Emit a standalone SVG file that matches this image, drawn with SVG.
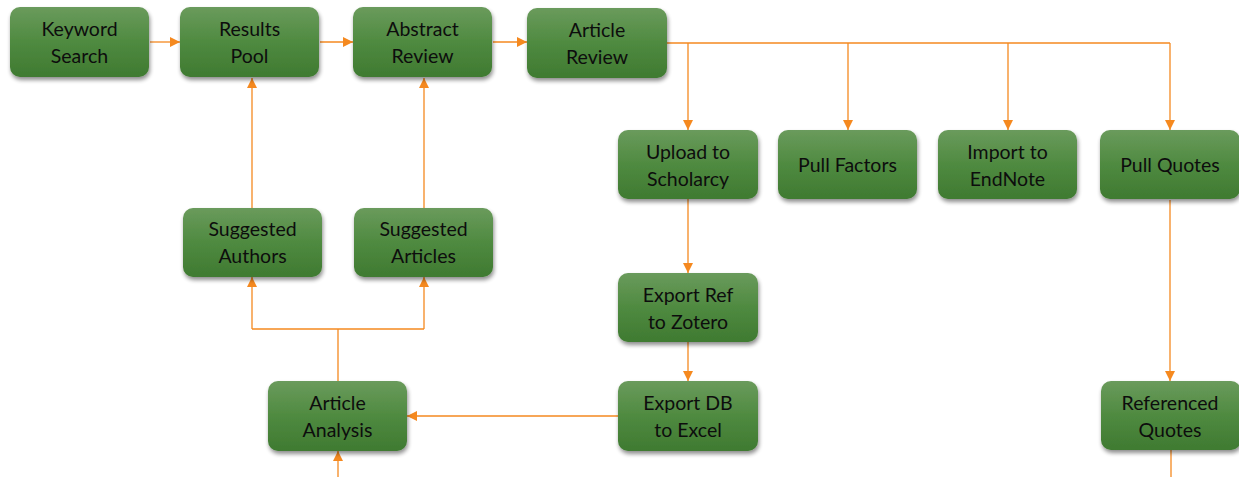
<svg xmlns="http://www.w3.org/2000/svg" width="1239" height="477" viewBox="0 0 1239 477">
  <defs>
    <linearGradient id="nodeFill" x1="0" y1="0" x2="0" y2="1">
      <stop offset="0" stop-color="#6a9b5c"/>
      <stop offset="0.5" stop-color="#4f8a40"/>
      <stop offset="1" stop-color="#3f7a31"/>
    </linearGradient>
    <filter id="shadow" x="-10%" y="-10%" width="125%" height="135%">
      <feGaussianBlur in="SourceAlpha" stdDeviation="2"/>
      <feOffset dx="1" dy="3" result="b"/>
      <feComponentTransfer><feFuncA type="linear" slope="0.45"/></feComponentTransfer>
      <feMerge><feMergeNode/><feMergeNode in="SourceGraphic"/></feMerge>
    </filter>
    <marker id="arrow" viewBox="0 0 10 10" refX="10" refY="5" markerWidth="10" markerHeight="10" markerUnits="userSpaceOnUse" orient="auto">
      <path d="M0,0 L10,5 L0,10 Z" fill="#f5891f"/>
    </marker>
  </defs>
  <style>
    .box { fill: url(#nodeFill); filter: url(#shadow); }
    .lbl { font-family: Lato, "Open Sans", "Liberation Sans", sans-serif; font-size: 19.5px; fill: #0d0d0d; text-anchor: middle; }
    .wire { fill: none; stroke: #f5891f; stroke-width: 1.3; }
    .wire.arr { marker-end: url(#arrow); }
  </style>

  <g id="connectors">
    <path class="wire arr" d="M150,42 H180"/>
    <path class="wire arr" d="M320,42 H353"/>
    <path class="wire arr" d="M493,42 H527"/>
    <path class="wire" d="M667,43 H1170"/>
    <path class="wire arr" d="M688,43 V130"/>
    <path class="wire arr" d="M848,43 V130"/>
    <path class="wire arr" d="M1008,43 V130"/>
    <path class="wire arr" d="M1170,43 V130"/>
    <path class="wire arr" d="M252,208 V78"/>
    <path class="wire arr" d="M424,208 V78"/>
    <path class="wire" d="M338,381 V329 M252,329 H424"/>
    <path class="wire arr" d="M252,329 V277"/>
    <path class="wire arr" d="M424,329 V277"/>
    <path class="wire arr" d="M688,199 V273"/>
    <path class="wire arr" d="M688,342 V381"/>
    <path class="wire arr" d="M618,416 H407"/>
    <path class="wire arr" d="M338,477 V451"/>
    <path class="wire arr" d="M1170,200 V381"/>
    <path class="wire" d="M1171,450 V477"/>
  </g>

  <g id="keyword-search">
    <rect class="box" x="10" y="7" width="139" height="70" rx="10"/>
    <text class="lbl" x="79.5" y="36">Keyword</text>
    <text class="lbl" x="79.5" y="63">Search</text>
  </g>
  <g id="results-pool">
    <rect class="box" x="180" y="7" width="139" height="70" rx="10"/>
    <text class="lbl" x="249.5" y="36">Results</text>
    <text class="lbl" x="249.5" y="63">Pool</text>
  </g>
  <g id="abstract-review">
    <rect class="box" x="353" y="7" width="139" height="70" rx="10"/>
    <text class="lbl" x="422.5" y="36">Abstract</text>
    <text class="lbl" x="422.5" y="63">Review</text>
  </g>
  <g id="article-review">
    <rect class="box" x="527" y="8" width="140" height="70" rx="10"/>
    <text class="lbl" x="597" y="37">Article</text>
    <text class="lbl" x="597" y="64">Review</text>
  </g>
  <g id="upload-scholarcy">
    <rect class="box" x="618" y="130" width="140" height="69" rx="10"/>
    <text class="lbl" x="688" y="159">Upload to</text>
    <text class="lbl" x="688" y="186">Scholarcy</text>
  </g>
  <g id="pull-factors">
    <rect class="box" x="778" y="130" width="139" height="69" rx="10"/>
    <text class="lbl" x="847.5" y="172">Pull Factors</text>
  </g>
  <g id="import-endnote">
    <rect class="box" x="938" y="130" width="139" height="69" rx="10"/>
    <text class="lbl" x="1007.5" y="159">Import to</text>
    <text class="lbl" x="1007.5" y="186">EndNote</text>
  </g>
  <g id="pull-quotes">
    <rect class="box" x="1100" y="130" width="140" height="69" rx="10"/>
    <text class="lbl" x="1170" y="172">Pull Quotes</text>
  </g>
  <g id="suggested-authors">
    <rect class="box" x="183" y="208" width="139" height="69" rx="10"/>
    <text class="lbl" x="252.5" y="236">Suggested</text>
    <text class="lbl" x="252.5" y="263">Authors</text>
  </g>
  <g id="suggested-articles">
    <rect class="box" x="354" y="208" width="139" height="69" rx="10"/>
    <text class="lbl" x="423.5" y="236">Suggested</text>
    <text class="lbl" x="423.5" y="263">Articles</text>
  </g>
  <g id="export-zotero">
    <rect class="box" x="618" y="273" width="140" height="69" rx="10"/>
    <text class="lbl" x="688" y="302">Export Ref</text>
    <text class="lbl" x="688" y="329">to Zotero</text>
  </g>
  <g id="export-excel">
    <rect class="box" x="618" y="381" width="140" height="70" rx="10"/>
    <text class="lbl" x="688" y="410">Export DB</text>
    <text class="lbl" x="688" y="437">to Excel</text>
  </g>
  <g id="article-analysis">
    <rect class="box" x="268" y="381" width="139" height="70" rx="10"/>
    <text class="lbl" x="337.5" y="410">Article</text>
    <text class="lbl" x="337.5" y="437">Analysis</text>
  </g>
  <g id="referenced-quotes">
    <rect class="box" x="1101" y="381" width="140" height="69" rx="10"/>
    <text class="lbl" x="1170" y="410">Referenced</text>
    <text class="lbl" x="1170" y="437">Quotes</text>
  </g>
</svg>
